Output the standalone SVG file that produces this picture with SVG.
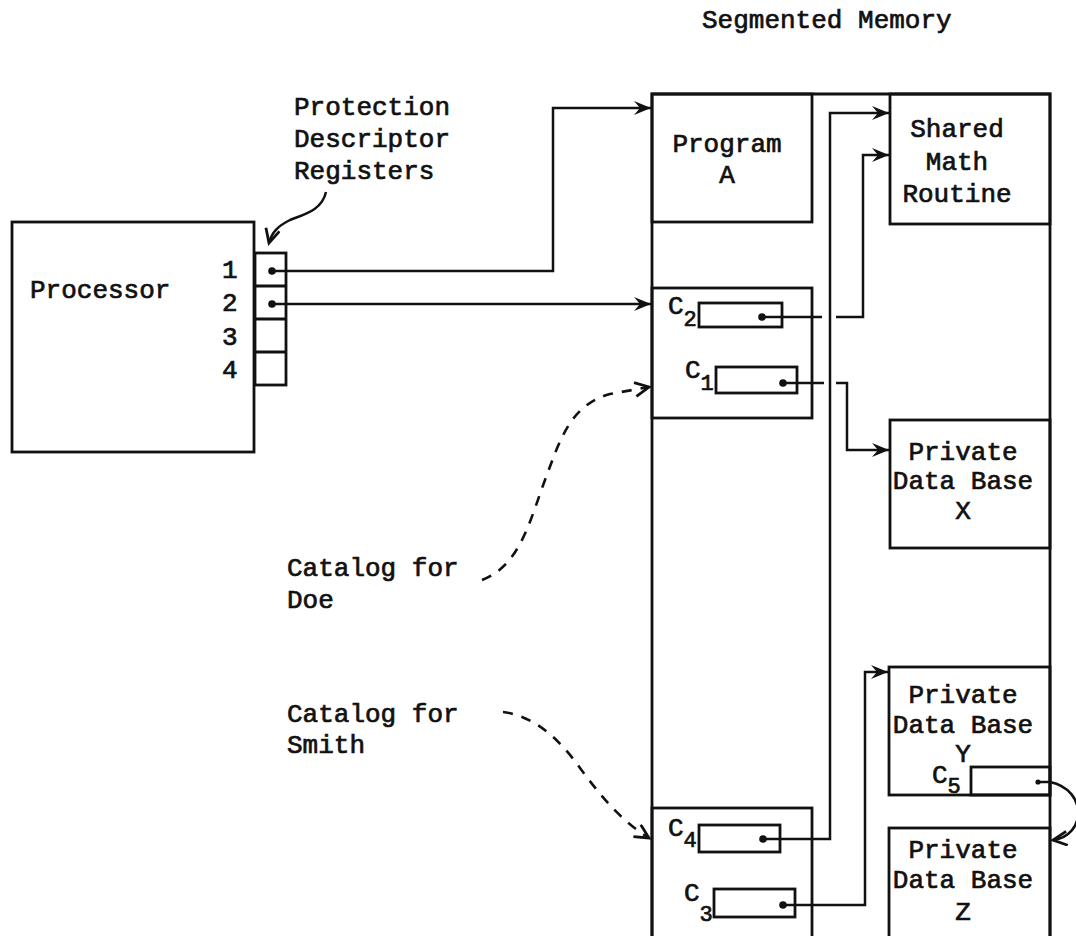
<svg xmlns="http://www.w3.org/2000/svg" width="1076" height="936" viewBox="0 0 1076 936">
<style>
  .box { fill: none; stroke: #111; stroke-width: 2.8; }
  .ln { fill: none; stroke: #111; stroke-width: 2.5; }
  .dash { fill: none; stroke: #111; stroke-width: 2.6; stroke-dasharray: 10 9; }
  .t { font-family: "Liberation Mono", "DejaVu Sans Mono", monospace; font-size: 26px; fill: #111; stroke: #111; stroke-width: 0.7; }
  .sub { font-size: 22px; }
  .dot { fill: #111; }
</style>
<defs>
  <marker id="ah" markerUnits="userSpaceOnUse" markerWidth="20" markerHeight="16" refX="17" refY="7" orient="auto">
    <path d="M0,0 L17,7 L0,14 L6,7 Z" fill="#111"/>
  </marker>
  <marker id="ao" markerUnits="userSpaceOnUse" markerWidth="20" markerHeight="18" refX="15" refY="8" orient="auto">
    <path d="M1,1 L15,8 L1,15" fill="none" stroke="#111" stroke-width="2.8"/>
  </marker>
</defs>
<rect width="1076" height="936" fill="#fff"/>

<text class="t" x="702" y="28">Segmented Memory</text>

<g id="processor">
  <rect class="box" x="12" y="222" width="242" height="230"/>
  <text class="t" x="30" y="298">Processor</text>
  <text class="t" x="222" y="278">1</text>
  <text class="t" x="222" y="311">2</text>
  <text class="t" x="222" y="345">3</text>
  <text class="t" x="222" y="378">4</text>
</g>

<g id="registers">
  <rect class="box" x="255" y="253" width="31" height="132"/>
  <path class="box" d="M255,286 H286 M255,319 H286 M255,352 H286"/>
  <circle class="dot" cx="272" cy="271" r="3.8"/>
  <circle class="dot" cx="272" cy="304" r="3.8"/>
</g>

<g id="protection-label">
  <text class="t" x="294" y="115">Protection</text>
  <text class="t" x="294" y="147">Descriptor</text>
  <text class="t" x="294" y="179">Registers</text>
</g>

<g id="memory">
  <path class="box" d="M652,940 V94 H1050 V940"/>
</g>

<g id="program-a">
  <rect class="box" x="652" y="94" width="160" height="128"/>
  <text class="t" x="727" y="152" text-anchor="middle">Program</text>
  <text class="t" x="727" y="183" text-anchor="middle">A</text>
</g>

<g id="shared-math">
  <rect class="box" x="890" y="94" width="160" height="130"/>
  <text class="t" x="957" y="137" text-anchor="middle">Shared</text>
  <text class="t" x="957" y="170" text-anchor="middle">Math</text>
  <text class="t" x="957" y="202" text-anchor="middle">Routine</text>
</g>

<g id="catalog-doe">
  <rect class="box" x="652" y="288" width="160" height="130"/>
  <rect class="box" x="699" y="303" width="83" height="24"/>
  <text class="t" x="668" y="314">C<tspan class="sub" dy="12">2</tspan></text>
  <rect class="box" x="716" y="367" width="81" height="26"/>
  <text class="t" x="685" y="378">C<tspan class="sub" dy="12">1</tspan></text>
  <circle class="dot" cx="762" cy="317" r="3.8"/>
  <circle class="dot" cx="783" cy="383" r="3.8"/>
</g>

<g id="private-x">
  <rect class="box" x="890" y="420" width="160" height="128"/>
  <text class="t" x="963" y="460" text-anchor="middle">Private</text>
  <text class="t" x="963" y="489" text-anchor="middle">Data Base</text>
  <text class="t" x="963" y="519" text-anchor="middle">X</text>
</g>

<g id="private-y">
  <rect class="box" x="889" y="667" width="161" height="128"/>
  <text class="t" x="963" y="703" text-anchor="middle">Private</text>
  <text class="t" x="963" y="733" text-anchor="middle">Data Base</text>
  <text class="t" x="963" y="762" text-anchor="middle">Y</text>
  <rect class="box" x="971" y="767" width="79" height="28"/>
  <text class="t" x="932" y="783">C<tspan class="sub" dy="10">5</tspan></text>
  <path class="ln" d="M1038,782 H1050"/>
  <circle class="dot" cx="1038" cy="782" r="2.6"/>
</g>

<g id="catalog-smith">
  <rect class="box" x="652" y="808" width="160" height="150"/>
  <rect class="box" x="699" y="825" width="81" height="27"/>
  <text class="t" x="668" y="836">C<tspan class="sub" dy="11">4</tspan></text>
  <rect class="box" x="714" y="889" width="81" height="28"/>
  <text class="t" x="684" y="901">C<tspan class="sub" dy="20">3</tspan></text>
  <circle class="dot" cx="763" cy="839" r="3.8"/>
  <circle class="dot" cx="783" cy="905" r="3.8"/>
</g>

<g id="private-z">
  <rect class="box" x="889" y="828" width="161" height="130"/>
  <text class="t" x="963" y="858" text-anchor="middle">Private</text>
  <text class="t" x="963" y="888" text-anchor="middle">Data Base</text>
  <text class="t" x="963" y="920" text-anchor="middle">Z</text>
</g>

<g id="catalog-labels">
  <text class="t" x="287" y="576">Catalog for</text>
  <text class="t" x="287" y="608">Doe</text>
  <text class="t" x="287" y="722">Catalog for</text>
  <text class="t" x="287" y="753">Smith</text>
</g>

<g id="connectors">
  <path class="ln" d="M272,271 H553 V108 H651" marker-end="url(#ah)"/>
  <path class="ln" d="M272,304 H651" marker-end="url(#ah)"/>
  <path class="ln" d="M762,317 H822 M836,317 H863 V155 H889" marker-end="url(#ah)"/>
  <path class="ln" d="M783,383 H824 M836,383 H847 V450 H889" marker-end="url(#ah)"/>
  <path class="ln" d="M763,839 H830 V113 H889" marker-end="url(#ah)"/>
  <path class="ln" d="M783,905 H865 V672 H888" marker-end="url(#ah)"/>
  <path class="ln" d="M1050,782 C1088,790 1086,836 1053,840" marker-end="url(#ao)"/>
  <path class="ln" d="M326,192 C322,210 305,214 290,220 C278,226 272,232 269,243" marker-end="url(#ao)"/>
  <path class="dash" d="M482,580 C520,566 530,520 545,480 C560,440 570,405 610,394 L649,387" marker-end="url(#ao)"/>
  <path class="dash" d="M503,712 C535,716 560,740 580,768 C600,795 620,820 649,838" marker-end="url(#ao)"/>
</g>
</svg>
